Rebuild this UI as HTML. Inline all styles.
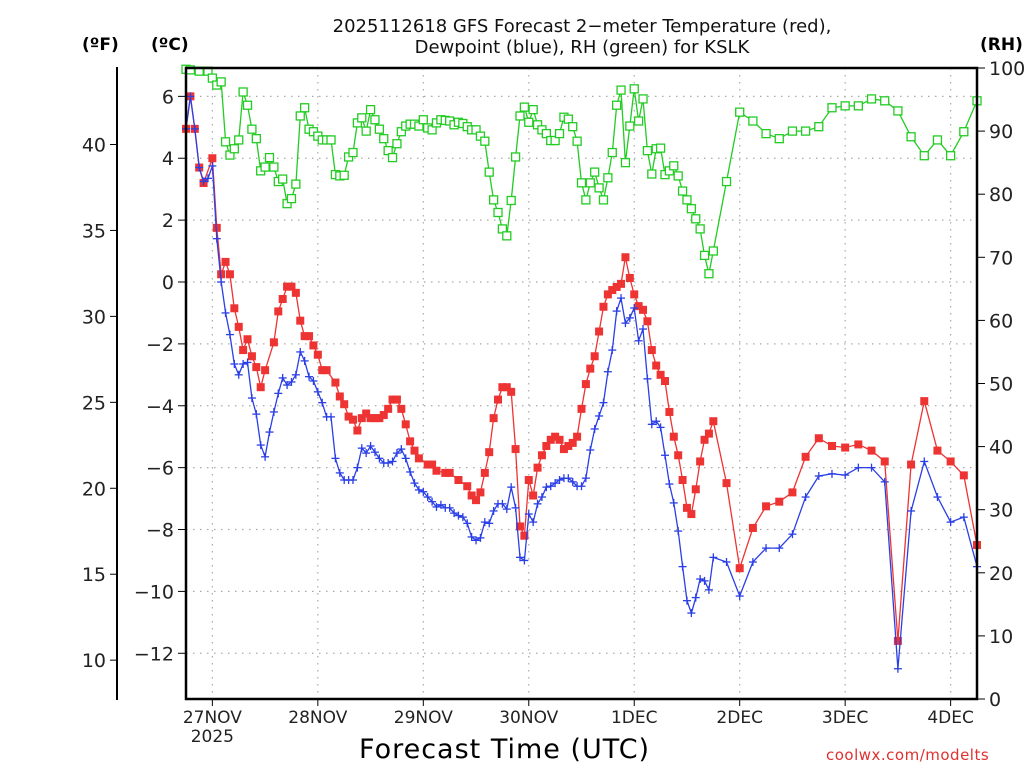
<!DOCTYPE html>
<html><head><meta charset="utf-8"><style>
body{margin:0;background:#fff;}
svg{display:block;font-family:"DejaVu Sans","Liberation Sans",sans-serif;}
</style></head><body>
<svg id="chart" width="1024" height="768" viewBox="0 0 1024 768"></svg>
<script>
const tHours=[0,1,2,3,4,6,7,8,9,10,11,12,13,14,15,16,17,18,20,21,22,23,24,25,26,27,28,29,30,31,32,34,35,36,37,38,39,40,41,42,43,44,45,46,47,48,49,50,51,52,53,55,56,57,59,60,62,64,65,66,67,68,69,70,71,72,73,74,75,76,77,78,79,80,81,82,83,84,85,86,87,88,89,90,91,92,93,94,95,96,97,98,99,100,101,102,103,104,105,106,107,108,109,110,111,112,113,114,115,116,117,118,119,120,123,126,129,132,135,138,141,144,147,150,153,156,159,162,165,168,171,174,177,180];
const tempC=[4.95,6.0,4.95,3.7,3.2,4.0,1.75,0.25,0.65,0.25,-0.85,-1.45,-2.2,-1.85,-2.4,-2.75,-3.4,-2.85,-1.95,-0.95,-0.55,-0.15,-0.15,-0.35,-1.25,-1.75,-1.75,-2.05,-2.35,-2.85,-2.85,-3.25,-3.7,-3.95,-4.35,-4.45,-4.8,-4.4,-4.25,-4.4,-4.4,-4.4,-4.3,-4.1,-3.8,-3.8,-4.1,-4.6,-5.15,-5.45,-5.7,-5.9,-5.9,-6.1,-6.17,-6.17,-6.4,-6.6,-6.9,-7.05,-6.8,-6.17,-5.5,-4.4,-3.8,-3.4,-3.4,-3.55,-5.4,-7.9,-8.2,-6.4,-6.9,-6.0,-5.6,-5.3,-5.1,-5.0,-5.1,-5.4,-5.3,-5.2,-5.0,-4.1,-3.3,-2.8,-2.4,-1.6,-0.8,-0.4,-0.26,-0.16,-0.06,0.8,0.13,-0.4,-0.78,-0.9,-1.27,-2.2,-2.7,-3.0,-3.2,-4.2,-5.0,-5.6,-6.4,-7.3,-7.5,-6.7,-5.8,-5.1,-4.9,-4.5,-6.5,-9.25,-7.95,-7.25,-7.1,-6.8,-5.65,-5.05,-5.3,-5.35,-5.25,-5.45,-5.8,-11.6,-5.9,-3.85,-5.45,-5.8,-6.25,-8.5];
const dHours=[0,1,2,3,4,5,6,7,8,9,10,11,12,13,14,15,16,17,18,19,20,21,22,23,24,25,26,27,28,29,30,31,32,33,34,35,36,37,38,39,40,41,42,43,44,45,46,47,48,49,50,51,52,53,54,55,56,57,58,59,60,61,62,63,64,65,66,67,68,69,70,71,72,73,74,75,76,77,78,79,80,81,82,83,84,85,86,87,88,89,90,91,92,93,94,95,96,97,98,99,100,101,102,103,104,105,106,107,108,109,110,111,112,113,114,115,116,117,118,119,120,123,126,129,132,135,138,141,144,147,150,153,156,159,162,165,168,171,174,177,180];
const dewC=[4.95,6.0,4.95,3.7,3.25,3.35,3.75,1.4,0,-1.0,-1.7,-2.65,-3.0,-2.65,-2.6,-3.75,-4.27,-5.27,-5.65,-4.85,-4.2,-3.6,-3.1,-3.33,-3.23,-3.0,-2.26,-2.55,-3.06,-3.2,-3.55,-3.9,-4.36,-4.36,-5.7,-6.17,-6.4,-6.4,-6.4,-6.0,-5.37,-5.53,-5.3,-5.5,-5.7,-5.85,-5.85,-5.8,-5.53,-5.4,-5.7,-6.14,-6.5,-6.72,-6.78,-6.95,-7.1,-7.27,-7.2,-7.3,-7.3,-7.47,-7.55,-7.6,-7.8,-8.24,-8.35,-8.27,-7.76,-7.8,-7.4,-7.17,-7.17,-7.34,-6.63,-7.3,-8.9,-9.0,-7.5,-7.76,-7.17,-6.95,-6.63,-6.6,-6.5,-6.4,-6.34,-6.34,-6.46,-6.6,-6.6,-6.34,-5.43,-4.75,-4.33,-3.9,-2.9,-2.2,-0.94,-0.52,-1.33,-1.16,-0.84,-1.9,-1.52,-3.13,-4.6,-4.5,-4.7,-5.6,-6.53,-7.14,-8.05,-9.2,-10.3,-10.7,-10.2,-9.6,-9.66,-9.95,-8.9,-9.05,-10.15,-9.05,-8.6,-8.6,-8.15,-6.95,-6.27,-6.2,-6.24,-6.0,-6.0,-6.46,-12.5,-7.4,-5.8,-6.95,-7.76,-7.6,-9.2];
const rhHours=[0,1,3,5,6,7,8,9,10,11,12,13,14,15,16,17,18,19,20,21,22,23,24,25,26,27,28,29,30,31,32,33,34,35,36,37,38,39,40,41,42,43,44,45,46,47,48,49,50,51,52,53,54,55,56,57,58,59,60,61,62,63,64,65,66,67,68,69,70,71,72,73,74,75,76,77,78,79,80,81,82,83,84,85,86,87,88,89,90,91,92,93,94,95,96,97,98,99,100,101,102,103,104,105,106,107,108,109,110,111,112,113,114,115,116,117,118,119,120,123,126,129,132,135,138,141,144,147,150,153,156,159,162,165,168,171,174,177,180];
const rhPct=[99.8,99.7,99.5,99.5,98.4,97.3,97.8,88.3,86.2,87.2,88.6,96.2,94.1,90.3,88.8,83.7,84.3,85.8,84.3,82.0,82.4,78.5,79.3,81.6,92.4,93.7,90.3,89.9,89.2,88.6,88.6,88.6,83.1,82.9,83.0,85.9,86.6,91.3,92.1,90.0,93.4,91.8,90.3,88.8,86.9,85.8,88.0,89.9,90.8,91.1,91.1,90.8,91.8,90.5,90.2,91.3,91.8,91.7,91.6,91.0,91.4,91.2,90.7,90.2,90.2,89.2,88.4,83.5,79.1,77.1,74.5,73.4,79.0,85.9,92.4,93.8,91.4,93.4,91.0,90.2,89.6,88.5,88.5,89.6,92.2,91.9,90.7,88.4,81.8,79.1,81.8,83.5,81.0,79.1,82.6,86.6,94.1,96.5,85.0,90.8,96.7,91.6,95.1,86.9,83.2,87.2,87.3,83.1,83.7,84.5,82.9,80.5,79.1,77.7,76.1,74.5,70.3,67.4,71.0,82.0,93.0,91.6,89.6,88.8,90.0,90.0,90.7,93.7,94.0,94.0,95.1,94.8,93.2,89.1,86.1,88.6,86.1,89.9,94.8];
const dayLabels=["27NOV","28NOV","29NOV","30NOV","1DEC","2DEC","3DEC","4DEC"];
const cTicks=[-12,-10,-8,-6,-4,-2,0,2,4,6];
const fTicks=[10,15,20,25,30,35,40];
const rhTicks=[0,10,20,30,40,50,60,70,80,90,100];

const NS="http://www.w3.org/2000/svg";
const svg=document.getElementById('chart');
const L=186,R=977,T=68,B=699;
const xS=h=>L+h*(R-L)/180;
const yC=c=>282-c*30.94;
const yF=f=>yC((f-32)*5/9);
const yRH=r=>B-r*(B-T)/100;
function el(tag,attrs,parent){const e=document.createElementNS(NS,tag);for(const k in attrs)e.setAttribute(k,attrs[k]);(parent||svg).appendChild(e);return e;}
function txt(s,attrs,parent){const e=el('text',attrs,parent);e.textContent=s;return e;}

const grid=el('g',{});


cTicks.forEach(c=>{el('line',{x1:L,x2:R,y1:yC(c),y2:yC(c),stroke:'#aaa','stroke-width':1.2,'stroke-dasharray':'1.5 5.5'},grid);});
dayLabels.forEach((d,i)=>{const x=xS(6+24*i);el('line',{x1:x,x2:x,y1:T,y2:B,stroke:'#aaa','stroke-width':1.2,'stroke-dasharray':'1.5 5.5'},grid);});

function series(hours,vals,yf,color,marker,name){
  const g=el('g',{});
  
  
  const pts=hours.map((h,i)=>xS(h).toFixed(1)+','+yf(vals[i]).toFixed(1)).join(' ');
  el('polyline',{points:pts,fill:'none',stroke:color,'stroke-width':1.3},g);
  hours.forEach((h,i)=>{const x=xS(h),y=yf(vals[i]);
    if(marker==='fill')el('rect',{x:x-4,y:y-4,width:8,height:8,fill:color},g);
    else if(marker==='open')el('rect',{x:x-4,y:y-4,width:8,height:8,fill:'#fff',stroke:color,'stroke-width':1.3},g);
    else{el('line',{x1:x-4,x2:x+4,y1:y,y2:y,stroke:color,'stroke-width':1.3},g);el('line',{x1:x,x2:x,y1:y-4,y2:y+4,stroke:color,'stroke-width':1.3},g);}
  });
}
series(rhHours,rhPct,yRH,'#22cc22','open','rh-series');
series(tHours,tempC,yC,'#ee3333','fill','temperature-series');
series(dHours,dewC,yC,'#2a3fe6','plus','dewpoint-series');

const fr=el('g',{});


el('rect',{x:L,y:T,width:R-L,height:B-T,fill:'none',stroke:'#000','stroke-width':2.5},fr);

const ca=el('g',{});


cTicks.forEach(c=>{const y=yC(c);el('line',{x1:L-8,x2:L,y1:y,y2:y,stroke:'#000','stroke-width':1},ca);
  txt((c<0?'\u2212':'')+Math.abs(c),{x:L-12,y:y+7,'text-anchor':'end','font-size':19,fill:'#222'},ca);});
const fa=el('g',{});


el('line',{x1:117,x2:117,y1:67,y2:700,stroke:'#000','stroke-width':2},fa);
fTicks.forEach(f=>{const y=yF(f);el('line',{x1:110,x2:117,y1:y,y2:y,stroke:'#000','stroke-width':1},fa);
  txt(String(f),{x:106,y:y+7,'text-anchor':'end','font-size':19,fill:'#222'},fa);});
const ra=el('g',{});


rhTicks.forEach(r=>{const y=yRH(r);el('line',{x1:R,x2:R+8,y1:y,y2:y,stroke:'#000','stroke-width':1},ra);
  txt(String(r),{x:R+12,y:y+7,'font-size':19,fill:'#222'},ra);});
const xa=el('g',{});


dayLabels.forEach((d,i)=>{const x=xS(6+24*i);el('line',{x1:x,x2:x,y1:B,y2:B+7,stroke:'#000','stroke-width':1},xa);
  txt(d,{x:x,y:723,'text-anchor':'middle','font-size':17,fill:'#222'},xa);});
txt('2025',{x:xS(6),y:742,'text-anchor':'middle','font-size':17,fill:'#222'},xa);
</script>
<div style="position:absolute;left:0;top:0;width:1024px;height:768px;pointer-events:none;font-family:'DejaVu Sans','Liberation Sans',sans-serif;">
<div style="position:absolute;left:0;width:1164px;top:16px;text-align:center;font-size:18px;line-height:21px;color:#111;">2025112618 GFS Forecast 2&#8722;meter Temperature (red),<br>Dewpoint (blue), RH (green) for KSLK</div>
<div style="position:absolute;left:82px;top:35px;font-weight:bold;font-size:17px;">(ºF)</div>
<div style="position:absolute;left:151px;top:35px;font-weight:bold;font-size:17px;">(ºC)</div>
<div style="position:absolute;left:980px;top:35px;font-weight:bold;font-size:17px;">(RH)</div>
<div style="position:absolute;left:359px;top:734px;font-size:27px;letter-spacing:1px;color:#000;">Forecast Time (UTC)</div>
<div style="position:absolute;left:826px;top:746px;font-size:15px;color:#e03030;letter-spacing:0.5px;">coolwx.com/modelts</div>
</div>
</body></html>
